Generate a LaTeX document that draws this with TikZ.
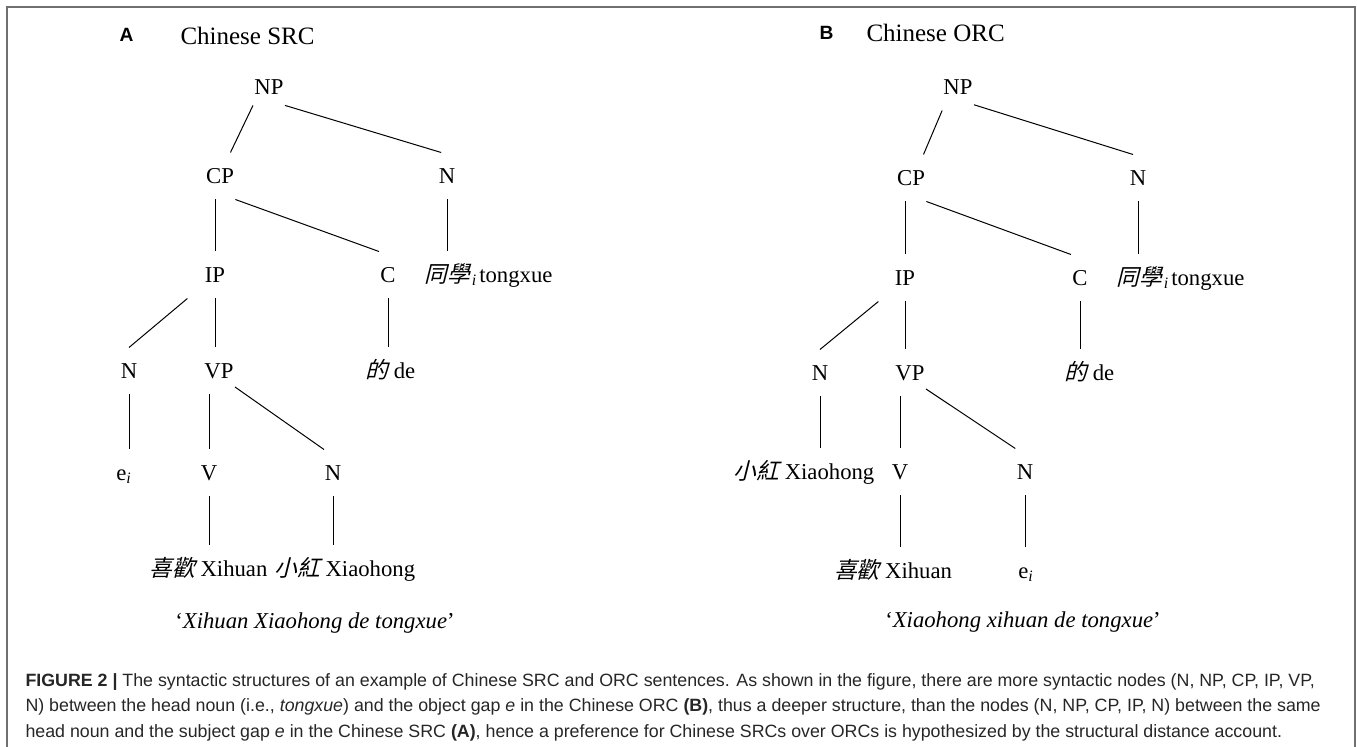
\documentclass[tikz,border=0pt]{standalone}
\usepackage{fontspec}
\setmainfont{Liberation Serif}
\setsansfont{Liberation Sans}
\newfontfamily\cjk[FakeSlant=0.25]{Noto Sans CJK TC}
\definecolor{framegray}{RGB}{112,112,112}

\begin{document}
\begin{tikzpicture}[x=0.5pt, y=-0.5pt,
    syn/.style={font=\fontsize{11.35}{13}\selectfont, text height=7.5pt, text depth=0pt, inner xsep=0.5pt, inner ysep=7.75pt},
    title/.style={font=\fontsize{12.5}{15}\selectfont, inner sep=0pt},
    panel/.style={font=\sffamily\bfseries\fontsize{9.6}{11}\selectfont, inner sep=0pt},
    every path/.style={line width=0.5pt}]
    \useasboundingbox (0,0) rectangle (1357,747);
    \draw [framegray, line width=1pt] (7,747) -- (7,7) -- (1355,7) -- (1355,747);

    % panel A: subject relative clause
    \node at (119,42) [panel, anchor=base west] (labA) {A};
    \node at (180,45) [title, anchor=base west] (titA) {Chinese SRC};
    \node at (269,87) [syn] (NPa) {NP};
    \node at (220,176) [syn] (CPa) {CP};
    \node at (447,176) [syn] (Na1) {N};
    \node at (215,275) [syn] (IPa) {IP};
    \node at (388,275) [syn] (Ca) {C};
    \node at (423,275) [syn, anchor=west] (tgA) {{\cjk 同學}\kern1pt\textsubscript{\textit{i}}\kern1pt tongxue};
    \node at (129,371) [syn] (Na2) {N};
    \node at (219,371) [syn] (VPa) {VP};
    \node at (364,371) [syn, anchor=west] (deA) {{\cjk 的} de};
    \node at (124,473) [syn] (ea) {e\textsubscript{\textit{i}}};
    \node at (209,473) [syn] (Va) {V};
    \node at (333,473) [syn] (Na3) {N};
    \node at (148,569) [syn, anchor=west] (xhA) {{\cjk 喜歡} Xihuan};
    \node at (273,569) [syn, anchor=west] (xhgA) {{\cjk 小紅} Xiaohong};
    \node at (315,621) [syn] (glA) {‘\textit{Xihuan Xiaohong de tongxue}’};
    \draw (NPa.229) -- (CPa.66);
    \draw (NPa.311) -- (Na1.104);
    \draw (CPa.south -| IPa) -- (IPa.north);
    \draw (CPa.south east) -- (Ca.north west);
    \draw (Na1.south) -- (Na1.south |- tgA.north);
    \draw ([xshift=-8pt]IPa.south west) -- (Na2.north);
    \draw (IPa.south) -- (IPa.south |- VPa.north);
    \draw (Ca.south) -- (Ca.south |- deA.north);
    \draw (Na2.south) -- (Na2.south |- ea.north);
    \draw (VPa.south -| Va) -- (Va.north);
    \draw (VPa.315) -- (Na3.111);
    \draw (Va.south) -- (Va.south |- xhA.north);
    \draw (Na3.south) -- (Na3.south |- xhgA.north);

    % panel B: object relative clause
    \node at (819,40) [panel, anchor=base west] (labB) {B};
    \node at (866,42) [title, anchor=base west] (titB) {Chinese ORC};
    \node at (958,87) [syn] (NPb) {NP};
    \node at (911,178) [syn] (CPb) {CP};
    \node at (1138,178) [syn] (Nb1) {N};
    \node at (905,278) [syn] (IPb) {IP};
    \node at (1080,278) [syn] (Cb) {C};
    \node at (1115,278) [syn, anchor=west] (tgB) {{\cjk 同學}\kern1pt\textsubscript{\textit{i}}\kern1pt tongxue};
    \node at (820,373) [syn] (Nb2) {N};
    \node at (910,373) [syn] (VPb) {VP};
    \node at (1063,373) [syn, anchor=west] (deB) {{\cjk 的} de};
    \node at (804,472) [syn] (xhgB) {{\cjk 小紅} Xiaohong};
    \node at (900,472) [syn] (Vb) {V};
    \node at (1025,472) [syn] (Nb3) {N};
    \node at (893,571) [syn] (xhB) {{\cjk 喜歡} Xihuan};
    \node at (1026,571) [syn] (eb) {e\textsubscript{\textit{i}}};
    \node at (1023,620) [syn] (glB) {‘\textit{Xiaohong xihuan de tongxue}’};
    \draw (NPb.236) -- (CPb.62);
    \draw (NPb.312) -- (Nb1.102);
    \draw (CPb.south -| IPb) -- (IPb.north);
    \draw (CPb.south east) -- (Cb.north west);
    \draw (Nb1.south) -- (Nb1.south |- tgB.north);
    \draw ([xshift=-7.5pt]IPb.south west) -- (Nb2.north);
    \draw (IPb.south) -- (IPb.south |- VPb.north);
    \draw (Cb.south) -- (Cb.south |- deB.north);
    \draw (Nb2.south) -- (Nb2.south |- xhgB.north);
    \draw (VPb.south -| Vb) -- (Vb.north);
    \draw (VPb.315) -- (Nb3.north west);
    \draw (Vb.south) -- (Vb.south |- xhB.north);
    \draw (Nb3.south) -- (Nb3.south |- eb.north);

    % caption
    \node at (25,673) [anchor=north west, inner sep=0pt, align=left, text=black!85,
        font=\sffamily\fontsize{8.9}{12.75}\selectfont] (cap)
        {\textbf{FIGURE 2 |} The syntactic structures of an example of Chinese SRC and ORC sentences. As shown in the figure, there are more syntactic nodes (N, NP, CP, IP, VP,\\
        N) between the head noun (i.e., \textit{tongxue}) and the object gap \textit{e} in the Chinese ORC \textbf{(B)}, thus a deeper structure, than the nodes (N, NP, CP, IP, N) between the same\\
        head noun and the subject gap \textit{e} in the Chinese SRC \textbf{(A)}, hence a preference for Chinese SRCs over ORCs is hypothesized by the structural distance account.};
\end{tikzpicture}
\end{document}
